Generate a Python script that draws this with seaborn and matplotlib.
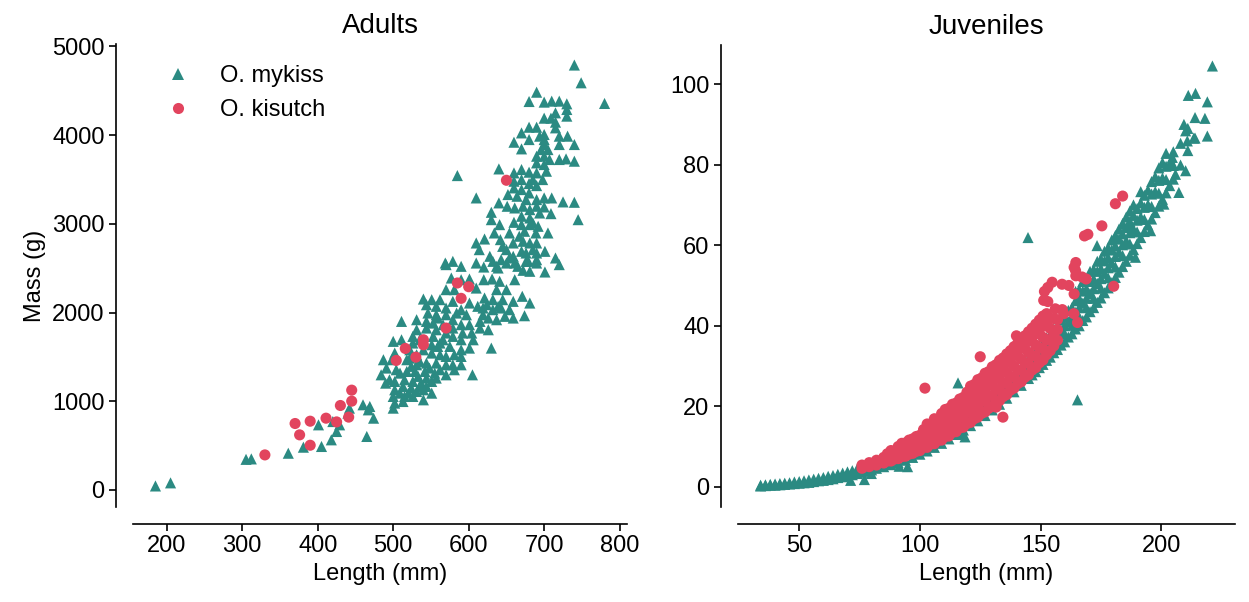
import pandas as pd
import matplotlib
matplotlib.use("Agg")
import matplotlib.pyplot as plt
import seaborn as sns

# --- colours / species ---
species = ["O. mykiss", "O. kisutch"]
palette = {"O. mykiss": "#2b8a82", "O. kisutch": "#e2445e"}
markers = {"O. mykiss": "^", "O. kisutch": "o"}

# --- adults: (length mm, mass g) ---
adult_kisutch = [
    (585, 2333), (600, 2291), (590, 2160), (570, 1825), (540, 1693), (540, 1637),
    (516, 1595), (530, 1497), (504, 1460), (445, 1125), (445, 1001), (430, 952),
    (441, 821), (411, 809), (425, 767), (390, 775), (370, 749), (376, 621),
    (390, 504), (330, 395), (650, 3491),
]

adult_mykiss = [
    (740, 4790), (749, 4590), (780, 4357), (690, 4484), (680, 4379), (700, 4372),
    (710, 4383), (720, 4383), (730, 4353), (730, 4289), (730, 4214), (715, 4251),
    (700, 4191), (709, 4191), (715, 4146), (715, 4082), (680, 4089), (690, 4089),
    (670, 4025), (680, 3950), (700, 4007), (700, 3950), (700, 3894), (720, 3988),
    (720, 3894), (731, 3988), (740, 3894), (660, 3920), (670, 3845), (690, 3762),
    (700, 3762), (720, 3725), (729, 3732), (740, 3706), (690, 3687), (700, 3668),
    (703, 3593), (690, 3574), (680, 3582), (670, 3612), (660, 3574), (640, 3619),
    (585, 3544), (660, 3480), (670, 3499), (680, 3454), (690, 3431), (660, 3405),
    (670, 3386), (680, 3348), (652, 3330), (664, 3311), (690, 3273), (700, 3292),
    (710, 3292), (725, 3247), (740, 3243), (690, 3198), (700, 3190), (610, 3292),
    (640, 3236), (630, 3130), (651, 3198), (661, 3179), (709, 3115), (745, 3047),
    (630, 3047), (641, 2991), (660, 3017), (670, 3085), (681, 3066), (670, 2991),
    (681, 2991), (634, 2897), (654, 2897), (689, 2897), (705, 2897), (621, 2829),
    (642, 2822), (672, 2803), (681, 2784), (690, 2784), (610, 2784), (614, 2709),
    (650, 2709), (670, 2690), (676, 2671), (690, 2671), (701, 2690), (715, 2615),
    (569, 2558), (579, 2577), (610, 2558), (632, 2577), (650, 2558), (661, 2558),
    (679, 2577), (720, 2540),
    (694, 3988), (705, 3837), (696, 3837), (707, 3725), (685, 3499), (698, 3499),
    (676, 3273), (681, 3160), (672, 3198), (694, 3122), (685, 3010), (692, 2972),
    (674, 2916), (667, 2860), (659, 2784), (645, 2746), (628, 2634), (659, 2634),
    (637, 2521), (665, 2521), (690, 2558),
    (685, 2709), (643, 2596), (654, 2615), (676, 2577), (690, 2596),
    (570, 2540), (590, 2521), (620, 2513), (639, 2502), (672, 2476), (681, 2465),
    (701, 2457), (577, 2389), (590, 2370), (601, 2378), (620, 2370), (631, 2378),
    (641, 2352), (661, 2370), (570, 2258), (581, 2258), (610, 2276), (637, 2258),
    (650, 2258), (540, 2152), (551, 2145), (562, 2145), (579, 2126), (601, 2107),
    (621, 2164), (632, 2145), (645, 2145), (659, 2126), (671, 2183), (681, 2107),
    (544, 2088), (557, 2070), (570, 2051), (590, 2032), (619, 2051), (632, 2032),
    (643, 2051), (654, 2032), (511, 1900), (531, 1919), (544, 1900), (559, 1938),
    (579, 1919), (590, 1863), (601, 1863), (619, 1975), (626, 1938), (659, 1938),
    (674, 1964), (615, 1825), (626, 1806), (531, 1806), (544, 1825), (557, 1806),
    (579, 1731), (590, 1693), (606, 1693), (630, 1599), (500, 1675), (511, 1693),
    (526, 1731), (553, 1731), (566, 1693), (551, 1637), (559, 1618), (575, 1618),
    (590, 1580), (601, 1599), (502, 1543), (522, 1580), (551, 1543), (562, 1524),
    (570, 1505), (581, 1524), (590, 1505), (487, 1468), (498, 1468), (518, 1468),
    (531, 1411), (544, 1430), (557, 1430), (570, 1411), (579, 1411), (590, 1411),
    (491, 1374), (504, 1355), (518, 1336), (529, 1336), (542, 1336), (555, 1317),
    (570, 1298), (581, 1355), (605, 1298), (484, 1298), (490, 1204), (502, 1223),
    (515, 1242), (526, 1223), (537, 1204), (551, 1223), (502, 1129), (509, 1091),
    (520, 1091), (531, 1110), (540, 1129), (551, 1091), (500, 1054), (502, 979),
    (513, 997), (540, 1016), (500, 922), (460, 960), (469, 941), (467, 903),
    (474, 809), (442, 922), (440, 866), (429, 734), (420, 771), (425, 659),
    (418, 565), (401, 734), (405, 490), (381, 482), (465, 603), (361, 414),
    (535, 1693), (526, 1656), (540, 1580), (531, 1524), (522, 1486), (535, 1449),
    (524, 1393), (548, 1374), (562, 1355), (533, 1280), (544, 1261), (557, 1261),
    (509, 1317), (513, 1167), (524, 1148), (535, 1167), (544, 1167), (526, 1054),
    (515, 1054), (495, 1242), (562, 1656), (570, 1769), (553, 1881), (566, 1863),
    (579, 1825), (592, 1769), (604, 1769), (615, 1900), (637, 1919), (648, 1957),
    (639, 2070), (624, 2088), (612, 2070), (597, 1975), (584, 1994), (570, 1975),
    (557, 1975), (546, 1994),
    (185, 45), (205, 80), (305, 345), (312, 350),
]

# --- juveniles: (length mm, mass g) ---
juv_mykiss = [
    (34, 0.2), (34, 0.4), (36, 0.3), (36, 0.5), (38, 0.4), (38, 0.6), (40, 0.4),
    (40, 0.7), (42, 0.5), (42, 0.8), (44, 0.6), (44, 0.9), (46, 0.7), (46, 1.0),
    (48, 0.8), (48, 1.2), (50, 0.9), (50, 1.3), (52, 1.0), (52, 1.5), (54, 1.1),
    (54, 1.7), (56, 1.3), (56, 1.9), (58, 1.5), (58, 2.1), (60, 1.6), (60, 2.3),
    (62, 1.8), (62, 2.6), (64, 2.0), (64, 2.8), (66, 2.3), (66, 3.1), (68, 2.5),
    (68, 3.4), (70, 2.7), (70, 3.7), (72, 3.0), (72, 4.0), (74, 3.3), (74, 4.4),
    (76, 3.6), (76, 4.7), (78, 3.9), (78, 5.0), (80, 4.2), (80, 5.3),
    (71.3, 1.6), (77, 1.8), (79.9, 3.3), (91.4, 5.1), (94.9, 5.0), (116.5, 13.2),
    (118.7, 12.4),
    (82, 4.6), (82, 5.8), (85, 5.0), (85, 6.3), (88, 5.5), (88, 6.9), (91, 6.0),
    (91, 7.5), (94, 6.6), (94, 8.2), (97, 7.3), (97, 9.0), (100, 8.1), (100, 9.9),
    (103, 8.9), (103, 10.8), (106, 9.8), (106, 11.8), (109, 10.8), (109, 12.9),
    (112, 11.9), (112, 14.0), (115, 13.0), (115, 15.2), (118, 14.1), (118, 16.4),
    (121, 15.2), (121, 17.6), (124, 16.4), (124, 18.9), (127, 17.7), (127, 20.3),
    (130, 19.1), (130, 21.8), (133, 20.5), (133, 23.3), (136, 22.0), (136, 24.9),
    (139, 23.6), (139, 26.6), (142, 25.2), (142, 28.3),
    (145, 26.9), (145, 28.4), (145, 30.0), (145, 31.8),
    (148, 28.6), (148, 30.2), (148, 31.8), (148, 33.6),
    (151, 30.4), (151, 32.0), (151, 33.7), (151, 35.6),
    (154, 32.2), (154, 34.0), (154, 35.8), (154, 37.8),
    (157, 34.1), (157, 36.0), (157, 37.9), (157, 40.0),
    (160, 36.0), (160, 38.0), (160, 40.0), (160, 42.2),
    (163, 38.0), (163, 40.1), (163, 42.2), (163, 44.5),
    (166, 40.0), (166, 42.2), (166, 44.5), (166, 46.8), (166, 49.0),
    (169, 42.2), (169, 44.5), (169, 46.8), (169, 49.2), (169, 51.5),
    (172, 44.5), (172, 46.8), (172, 49.2), (172, 51.6), (172, 54.0),
    (175, 46.9), (175, 49.3), (175, 51.7), (175, 54.2), (175, 56.6),
    (178, 49.4), (178, 51.9), (178, 54.4), (178, 56.9), (178, 59.4),
    (181, 52.0), (181, 54.6), (181, 57.2), (181, 59.8), (181, 62.4),
    (184, 54.7), (184, 57.4), (184, 60.1), (184, 62.8), (184, 65.4),
    (187, 57.5), (187, 60.3), (187, 63.1), (187, 65.9), (187, 68.5),
    (190, 60.4), (190, 63.3), (190, 66.2), (190, 69.1),
    (193, 63.4), (193, 66.4), (193, 69.4), (193, 72.4),
    (196, 66.5), (196, 69.6), (196, 72.7), (196, 75.8),
    (199, 69.7), (199, 72.9), (199, 76.1), (199, 79.2),
    (202, 73.0), (202, 76.3), (202, 79.6), (202, 82.8),
    (205, 76.4), (205, 79.8), (205, 83.2),
    (146.5, 27.8), (146.5, 30.9), (146.5, 33.0),
    (149.5, 29.6), (149.5, 32.8), (149.5, 35.0),
    (152.5, 31.4), (152.5, 34.7), (152.5, 37.0),
    (155.5, 33.3), (155.5, 36.7), (155.5, 39.2),
    (158.5, 35.2), (158.5, 38.8), (158.5, 41.4),
    (161.5, 37.2), (161.5, 41.0), (161.5, 43.8),
    (164.5, 39.2), (164.5, 43.3), (164.5, 46.2), (164.5, 48.5),
    (167.5, 41.3), (167.5, 45.6), (167.5, 48.6), (167.5, 51.0),
    (170.5, 43.5), (170.5, 48.0), (170.5, 51.0), (170.5, 53.5),
    (173.5, 45.8), (173.5, 50.5), (173.5, 53.5), (173.5, 56.0),
    (176.5, 48.2), (176.5, 53.0), (176.5, 56.1), (176.5, 58.5),
    (179.5, 50.7), (179.5, 55.6), (179.5, 58.8), (179.5, 61.3),
    (182.5, 53.3), (182.5, 58.3), (182.5, 61.5), (182.5, 64.0),
    (185.5, 56.0), (185.5, 61.1), (185.5, 64.4), (185.5, 67.0),
    (188.5, 58.9), (188.5, 64.0), (188.5, 67.4), (188.5, 70.0),
    (191.5, 61.9), (191.5, 67.0), (191.5, 70.5), (191.5, 73.3),
    (194.5, 65.0), (194.5, 70.1), (194.5, 73.7),
    (197.5, 68.1), (197.5, 73.3), (197.5, 77.0),
    (200.5, 71.4), (200.5, 76.7), (200.5, 80.5),
    (203.5, 74.8), (203.5, 80.2),
    (208, 79.9), (208, 85.3), (211, 83.5), (211, 89.0), (214, 86.6), (214, 91.7),
    (209.4, 90.0), (210.1, 88.4), (213.5, 86.6), (219.1, 87.1), (210.8, 85.9),
    (211.2, 97.2), (214.2, 97.7), (219.1, 95.6), (218.1, 91.5), (221.2, 104.5),
    (204.6, 81.8), (205.9, 77.6), (210.1, 78.5), (207.3, 73.1), (201.1, 70.2),
    (195.6, 63.6), (186.6, 65.3), (189.3, 57.0), (173.4, 59.9),
    (144.8, 61.9), (165.3, 21.6), (115.8, 25.8),
]

juv_kisutch = [
    (76, 4.6), (76, 5.4), (79, 5.0), (79, 6.0), (82, 5.4), (82, 6.6), (85, 5.9),
    (85, 7.3), (88, 6.4), (88, 7.7), (88, 9.0), (91, 7.0), (91, 8.5), (91, 10.0),
    (94, 7.6), (94, 9.2), (94, 10.9), (97, 8.3), (97, 10.0), (97, 11.9),
    (100, 9.0), (100, 10.9), (100, 12.8),
    (86.5, 6.4), (86.5, 8.2), (89.5, 6.9), (89.5, 8.8),
    (92.5, 7.5), (92.5, 9.4), (92.5, 10.8), (95.5, 8.1), (95.5, 10.1), (95.5, 11.6),
    (98.5, 8.8), (98.5, 10.9), (98.5, 12.5),
    (103, 9.8), (103, 11.8), (103, 13.8), (103, 15.6),
    (106, 10.7), (106, 12.8), (106, 14.9), (106, 16.9),
    (109, 11.6), (109, 13.8), (109, 16.0), (109, 18.2),
    (112, 12.6), (112, 14.9), (112, 17.2), (112, 19.5),
    (115, 13.7), (115, 16.0), (115, 18.4), (115, 20.8),
    (118, 14.8), (118, 17.2), (118, 19.6), (118, 22.2),
    (121, 16.0), (121, 18.4), (121, 20.9), (121, 23.4), (121, 25.0),
    (124, 17.3), (124, 19.8), (124, 22.3), (124, 24.8), (124, 26.6),
    (127, 18.6), (127, 21.2), (127, 23.8), (127, 26.3), (127, 28.2),
    (130, 20.0), (130, 22.6), (130, 25.3), (130, 27.9), (130, 29.8),
    (133, 21.4), (133, 24.1), (133, 26.8), (133, 29.5), (133, 31.4),
    (136, 22.9), (136, 25.7), (136, 28.4), (136, 31.1), (136, 33.0),
    (139, 24.5), (139, 27.3), (139, 30.0), (139, 32.8), (139, 34.8),
    (142, 26.1), (142, 28.9), (142, 31.7), (142, 34.5), (142, 36.6),
    (145, 27.8), (145, 30.6), (145, 33.4), (145, 36.2), (145, 38.5),
    (148, 29.6), (148, 32.4), (148, 35.2), (148, 38.0), (148, 40.4),
    (151, 31.5), (151, 34.3), (151, 37.1), (151, 39.9), (151, 42.4),
    (154, 33.8), (154, 36.6), (154, 39.3), (154, 41.8),
    (157, 36.4), (157, 39.0), (157, 41.5),
    (101.5, 9.8), (101.5, 12.0), (101.5, 14.2),
    (104.5, 10.6), (104.5, 13.0), (104.5, 15.3),
    (107.5, 11.5), (107.5, 14.0), (107.5, 16.5),
    (110.5, 12.5), (110.5, 15.1), (110.5, 17.7), (110.5, 19.2),
    (113.5, 13.5), (113.5, 16.2), (113.5, 18.9), (113.5, 20.5),
    (116.5, 14.6), (116.5, 17.4), (116.5, 20.1), (116.5, 21.8),
    (119.5, 15.7), (119.5, 18.6), (119.5, 21.5), (119.5, 23.5),
    (122.5, 16.9), (122.5, 19.9), (122.5, 22.9), (122.5, 25.4),
    (125.5, 18.2), (125.5, 21.3), (125.5, 24.4), (125.5, 27.0),
    (128.5, 19.5), (128.5, 22.7), (128.5, 25.9), (128.5, 28.6),
    (131.5, 20.9), (131.5, 24.2), (131.5, 27.5), (131.5, 30.3),
    (134.5, 22.4), (134.5, 25.8), (134.5, 29.1), (134.5, 32.0),
    (137.5, 24.0), (137.5, 27.4), (137.5, 30.8), (137.5, 33.8),
    (140.5, 25.6), (140.5, 29.0), (140.5, 32.5), (140.5, 35.6),
    (143.5, 27.2), (143.5, 30.8), (143.5, 34.3), (143.5, 37.5),
    (146.5, 29.0), (146.5, 32.6), (146.5, 36.2), (146.5, 39.4),
    (149.5, 30.8), (149.5, 34.5), (149.5, 38.1), (149.5, 41.4),
    (152.5, 32.8), (152.5, 36.5), (152.5, 40.0), (152.5, 43.0),
    (155.5, 35.0), (155.5, 38.5), (155.5, 41.8),
    (102.1, 24.5), (125, 32.3), (131.6, 19.8), (134.4, 17.3), (140, 37.5),
    (153, 46.0), (153, 49.5), (151.6, 48.5), (159, 44.0), (164.6, 55.7),
    (163.9, 54.5), (164.6, 52.4), (165.3, 40.8), (163.9, 47.9), (168.9, 51.6),
    (168.2, 62.3), (169.6, 62.7), (175.4, 64.8), (181, 70.3), (184, 72.2),
    (180.3, 49.8), (154.8, 50.8), (158.9, 50.3), (161.7, 50.0), (151.3, 46.3),
    (156.1, 44.2), (159.6, 43.0), (163.8, 43.0), (164.5, 53.7), (167.2, 52.1),
]


def to_frame(mykiss, kisutch):
    rows = [(l, m, species[0]) for l, m in mykiss]
    rows += [(l, m, species[1]) for l, m in kisutch]
    return pd.DataFrame(rows, columns=["length", "mass", "species"])


adults = to_frame(adult_mykiss, adult_kisutch)
juveniles = to_frame(juv_mykiss, juv_kisutch)

sns.set_style("ticks", rc={"axes.edgecolor": "black", "text.color": "black",
                           "axes.labelcolor": "black", "xtick.color": "black",
                           "ytick.color": "black"})
plt.rcParams["font.family"] = ["Liberation Sans", "DejaVu Sans"]

fig = plt.figure(figsize=(12.49, 6.02), dpi=100)
ax1 = fig.add_axes([133 / 1249, 95 / 602, 494 / 1249, 463 / 602])
ax2 = fig.add_axes([738 / 1249, 95 / 602, 497 / 1249, 462 / 602])

for ax, df, title in [(ax1, adults, "Adults"), (ax2, juveniles, "Juveniles")]:
    sns.scatterplot(data=df, x="length", y="mass", hue="species", style="species",
                    hue_order=species, style_order=species, palette=palette,
                    markers=markers, s=64, linewidth=0, ax=ax,
                    legend=(ax is ax1))
    ax.set_title(title, fontsize=20, pad=8)
    ax.set_xlabel("Length (mm)", fontsize=17)
    ax.tick_params(labelsize=17, length=5, width=1.2)
    for sp in ax.spines.values():
        sp.set_linewidth(1.2)

ax1.set_ylabel("Mass (g)", fontsize=17)
ax2.set_ylabel("")
ax1.set_xticks(range(200, 801, 100))
ax1.set_yticks(range(0, 5001, 1000))
ax2.set_xticks(range(50, 201, 50))
ax2.set_yticks(range(0, 101, 20))

sns.move_legend(ax1, "upper left", frameon=False, title=None, fontsize=17)
sns.despine(fig=fig, offset=12)

fig.savefig("out.png", dpi=100)
